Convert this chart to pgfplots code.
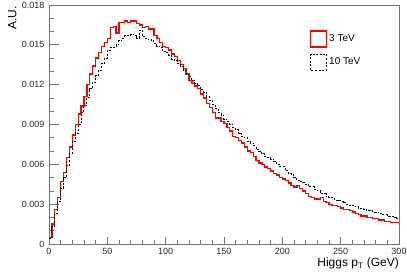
\documentclass[border=0pt]{standalone}
\usepackage{fontspec}
\setmainfont{Liberation Sans}
\usepackage{pgfplots}
\usepackage{pgfplotstable}
\pgfplotsset{compat=1.18}

\pgfplotstableread{
x y
0 0.0005
2.5 0.0015
5 0.0026
7.5 0.0035
10 0.0047
12.5 0.0054
15 0.0065
17.5 0.0073
20 0.0082
22.5 0.0090
25 0.0098
27.5 0.0104
30 0.0111
32.5 0.0120
35 0.0128
37.5 0.0134
40 0.0140
42.5 0.0144
45 0.0149
47.5 0.0152
50 0.0155
52.5 0.0163
55 0.0164
57.5 0.0159
60 0.0167
62.5 0.0167
65 0.0168
67.5 0.0167
70 0.0168
72.5 0.0168
75 0.0166
77.5 0.0165
80 0.0163
82.5 0.0164
85 0.0162
87.5 0.0162
90 0.0157
92.5 0.0155
95 0.0152
97.5 0.0149
100 0.0148
102.5 0.0146
105 0.0143
107.5 0.0141
110 0.0138
112.5 0.0135
115 0.0132
117.5 0.0128
120 0.0123
122.5 0.0121
125 0.0119
127.5 0.0117
130 0.0113
132.5 0.0110
135 0.0106
137.5 0.0103
140 0.0099
142.5 0.0095
145 0.0095
147.5 0.0092
150 0.0091
152.5 0.0088
155 0.0085
157.5 0.0081
160 0.0080
162.5 0.0078
165 0.0076
167.5 0.0073
170 0.0070
172.5 0.0069
175 0.0066
177.5 0.0063
180 0.0061
182.5 0.0060
185 0.0058
187.5 0.0057
190 0.0055
192.5 0.0053
195 0.0052
197.5 0.0050
200 0.0049
202.5 0.0048
205 0.0046
207.5 0.0044
210 0.0043
212.5 0.0044
215 0.0042
217.5 0.0040
220 0.0038
222.5 0.0036
225 0.0035
227.5 0.0034
230 0.0034
232.5 0.0035
235 0.0032
237.5 0.0031
240 0.0030
242.5 0.0029
245 0.0029
247.5 0.0028
250 0.0027
252.5 0.0026
255 0.0026
257.5 0.0025
260 0.0024
262.5 0.0023
265 0.0022
267.5 0.0021
270 0.0021
272.5 0.0020
275 0.0020
277.5 0.0019
280 0.0019
282.5 0.0018
285 0.0018
287.5 0.0017
290 0.0017
292.5 0.0016
295 0.0016
297.5 0.0016
300 0.0016
}\redtable

\pgfplotstableread{
x y
0 0.0004
2.5 0.0013
5 0.0023
7.5 0.0032
10 0.0042
12.5 0.0050
15 0.0059
17.5 0.0068
20 0.0077
22.5 0.0083
25 0.0090
27.5 0.0099
30 0.0104
32.5 0.0110
35 0.0117
37.5 0.0122
40 0.0127
42.5 0.0131
45 0.0136
47.5 0.0140
50 0.0146
52.5 0.0148
55 0.0148
57.5 0.0150
60 0.0153
62.5 0.0155
65 0.0157
67.5 0.0157
70 0.0158
72.5 0.0157
75 0.0155
77.5 0.0161
80 0.0156
82.5 0.0155
85 0.0154
87.5 0.0153
90 0.0151
92.5 0.0149
95 0.0148
97.5 0.0145
100 0.0144
102.5 0.0142
105 0.0139
107.5 0.0138
110 0.0136
112.5 0.0134
115 0.0131
117.5 0.0128
120 0.0126
122.5 0.0123
125 0.0121
127.5 0.0119
130 0.0116
132.5 0.0114
135 0.0111
137.5 0.0108
140 0.0105
142.5 0.0102
145 0.0099
147.5 0.0097
150 0.0094
152.5 0.0092
155 0.0090
157.5 0.0088
160 0.0086
162.5 0.0083
165 0.0081
167.5 0.0080
170 0.0077
172.5 0.0076
175 0.0074
177.5 0.0071
180 0.0070
182.5 0.0068
185 0.0066
187.5 0.0065
190 0.0064
192.5 0.0062
195 0.0060
197.5 0.0058
200 0.0058
202.5 0.0055
205 0.0053
207.5 0.0052
210 0.0050
212.5 0.0048
215 0.0047
217.5 0.0046
220 0.0045
222.5 0.0043
225 0.0043
227.5 0.0041
230 0.0040
232.5 0.0038
235 0.0038
237.5 0.0036
240 0.0035
242.5 0.0035
245 0.0033
247.5 0.0033
250 0.0032
252.5 0.0031
255 0.0030
257.5 0.0029
260 0.0029
262.5 0.0028
265 0.0027
267.5 0.0027
270 0.0026
272.5 0.0025
275 0.0025
277.5 0.0024
280 0.0024
282.5 0.0023
285 0.0022
287.5 0.0022
290 0.0021
292.5 0.0021
295 0.0020
297.5 0.0019
300 0.0019
}\blacktable

\begin{document}
\begin{tikzpicture}
\begin{axis}[
  at={(0,0)}, anchor=south west,
  scale only axis, width=350pt, height=239pt,
  xmin=0, xmax=300, ymin=0, ymax=0.018,
  axis line style={black!55, line width=0.7pt},
  tick align=inside,
  xtick pos=bottom, ytick pos=left,
  xtick={0,50,...,300}, minor x tick num=4,
  ytick={0,0.003,...,0.0181}, minor y tick num=2,
  yticklabels={0,0.003,0.006,0.009,0.012,0.015,0.018},
  xticklabels={0,50,100,150,200,250,300},
  scaled y ticks=false,
  tick style={black!55, line width=0.7pt},
  xtick style={/pgfplots/major tick length=7pt, /pgfplots/minor tick length=4pt},
  ytick style={/pgfplots/major tick length=10pt, /pgfplots/minor tick length=5.5pt},
  ticklabel style={font=\fontsize{9}{10}\selectfont, text=black!85},
  yticklabel style={xshift=-1pt},
  xticklabel style={yshift=-1pt},
  xlabel={Higgs p$_{\mathrm{T}}$ (GeV)},
  xlabel style={at={(axis description cs:1,0)}, anchor=north east, yshift=-14pt, inner sep=0pt, font=\fontsize{12}{14}\selectfont},
  legend cell align=left,
  legend style={at={(rel axis cs:0.745,0.895)}, anchor=north west, draw=none, fill=none,
    font=\fontsize{10}{12}\selectfont, row sep=6pt, inner sep=0pt},
  legend image code/.code={\draw[#1] (0pt,-8pt) rectangle (16pt,8pt);},
]
\addplot[red, line width=1.3pt, const plot mark left] table[x=x,y=y] {\redtable};
\addlegendentry{3 TeV}
\addplot[black, line width=1pt, dash pattern=on 2pt off 1.6pt, const plot mark left] table[x=x,y=y] {\blacktable};
\addlegendentry{10 TeV}
\end{axis}
\node[rotate=90, anchor=north east, inner sep=0pt, font=\fontsize{12}{14}\selectfont] at (-41pt,238pt) {A.U.};
\pgfresetboundingbox
\useasboundingbox (-49pt,-34pt) rectangle (358pt,244pt);
\end{tikzpicture}
\end{document}
